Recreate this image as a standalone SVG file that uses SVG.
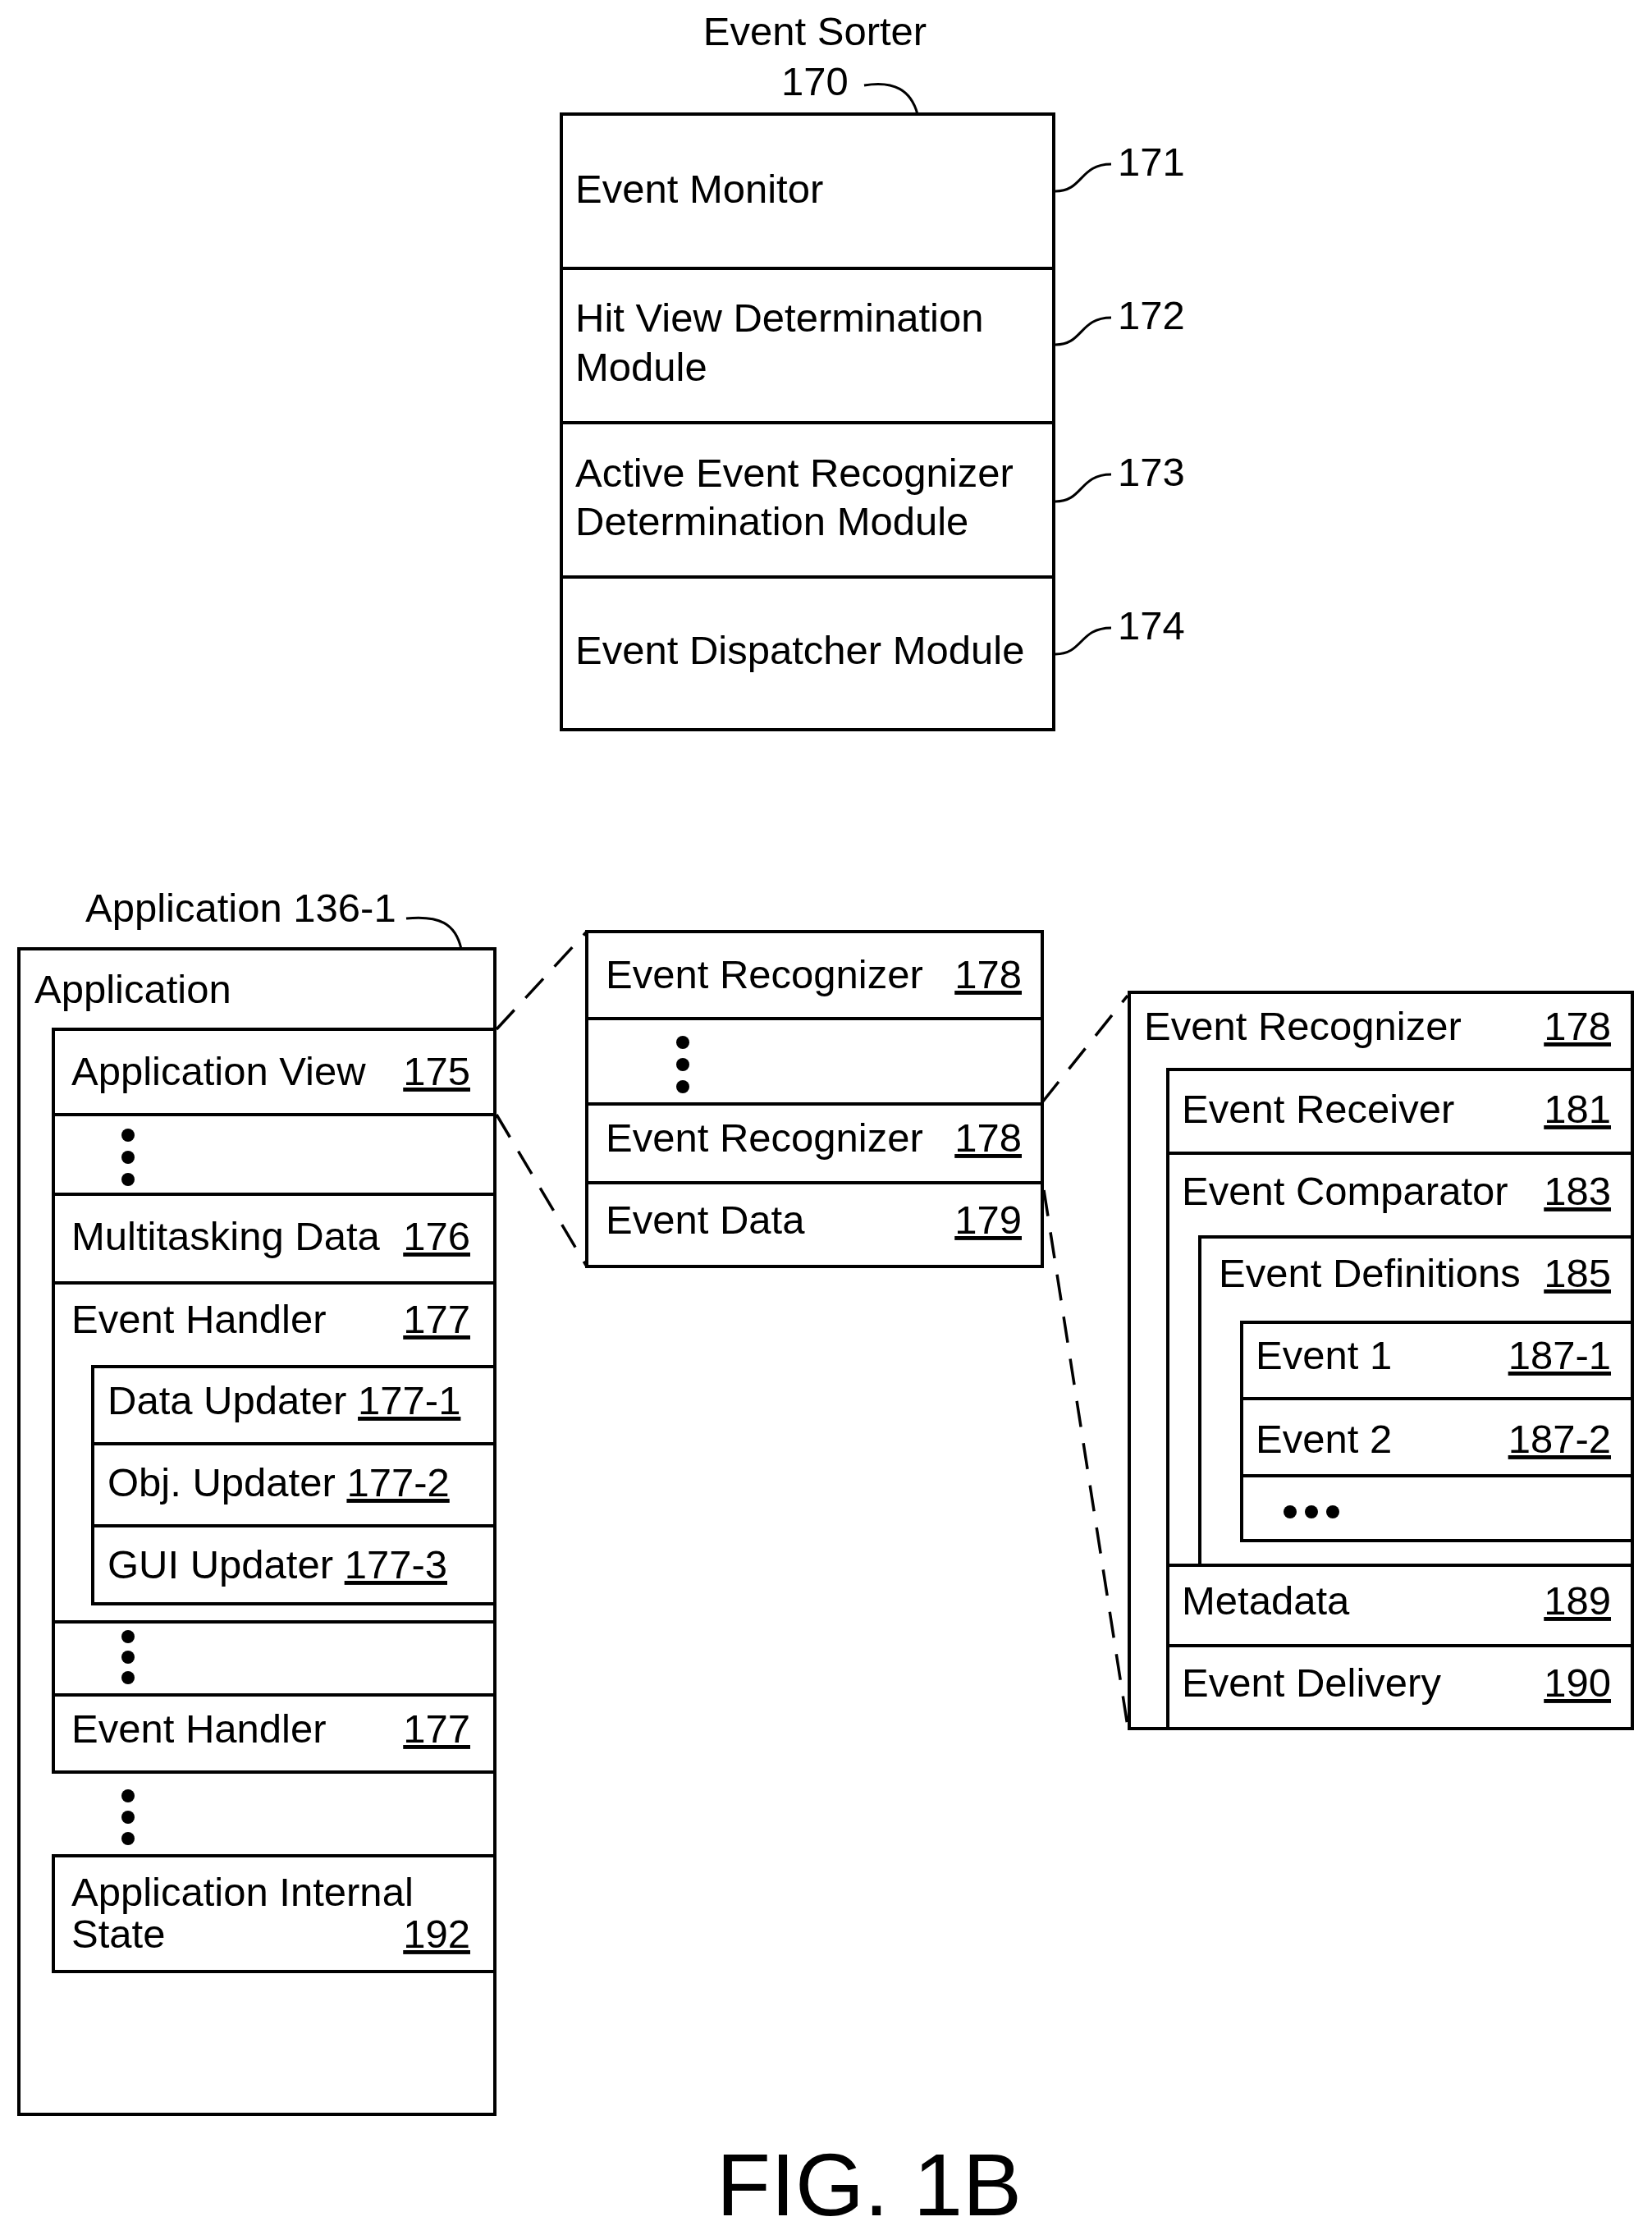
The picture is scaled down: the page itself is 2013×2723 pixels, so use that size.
<svg xmlns="http://www.w3.org/2000/svg" width="2013" height="2723" viewBox="0 0 2013 2723">
<style>
text{font-family:"Liberation Sans",Arial,sans-serif;font-size:49px;fill:#000}
.n{text-anchor:end;text-decoration:underline}
.b{fill:#fff;stroke:#000;stroke-width:4}
.l{fill:none;stroke:#000;stroke-width:4}
.d{fill:none;stroke:#000;stroke-width:3.5;stroke-dasharray:32 20}
.c{fill:none;stroke:#000;stroke-width:3}
</style>
<rect width="2013" height="2723" fill="#fff"/>
<g id="event-sorter">
<text x="993" y="55" text-anchor="middle">Event Sorter</text>
<text x="993" y="116" text-anchor="middle">170</text>
<path class="c" d="M1053,104 C1090,98 1110,110 1118,139"/>
<rect class="b" x="684" y="139" width="600" height="750"/>
<line class="l" x1="684" y1="327" x2="1284" y2="327"/>
<line class="l" x1="684" y1="515" x2="1284" y2="515"/>
<line class="l" x1="684" y1="703" x2="1284" y2="703"/>
<text x="701" y="247">Event Monitor</text>
<text x="701" y="404">Hit View Determination</text>
<text x="701" y="464">Module</text>
<text x="701" y="593">Active Event Recognizer</text>
<text x="701" y="652">Determination Module</text>
<text x="701" y="809">Event Dispatcher Module</text>
<path class="c" d="M1286,233 C1320,233 1315,200 1354,200"/><text x="1362" y="214">171</text>
<path class="c" d="M1286,420 C1320,420 1315,387 1354,387"/><text x="1362" y="401">172</text>
<path class="c" d="M1286,611 C1320,611 1315,578 1354,578"/><text x="1362" y="592">173</text>
<path class="c" d="M1286,797 C1320,797 1315,765 1354,765"/><text x="1362" y="779">174</text>
</g>
<g id="application">
<text x="104" y="1123">Application 136-1</text>
<path class="c" d="M495,1119 C535,1115 555,1125 562,1156"/>
<rect class="b" x="23" y="1156" width="580" height="1420"/>
<text x="42" y="1222">Application</text>
<rect class="b" x="65" y="1254" width="538" height="722"/>
<line class="l" x1="65" y1="1358" x2="603" y2="1358"/>
<line class="l" x1="65" y1="1455" x2="603" y2="1455"/>
<line class="l" x1="65" y1="1563" x2="603" y2="1563"/>
<rect class="b" x="113" y="1665" width="490" height="289"/>
<line class="l" x1="113" y1="1759" x2="603" y2="1759"/>
<line class="l" x1="113" y1="1859" x2="603" y2="1859"/>
<text x="87" y="1322">Application View</text><text class="n" x="573" y="1322">175</text>
<circle cx="156" cy="1383" r="8"/><circle cx="156" cy="1410" r="8"/><circle cx="156" cy="1437" r="8"/>
<text x="87" y="1523">Multitasking Data</text><text class="n" x="573" y="1523">176</text>
<text x="87" y="1624">Event Handler</text><text class="n" x="573" y="1624">177</text>
<text x="131" y="1723">Data Updater <tspan text-decoration="underline">177-1</tspan></text>
<text x="131" y="1823">Obj. Updater <tspan text-decoration="underline">177-2</tspan></text>
<text x="131" y="1923">GUI Updater <tspan text-decoration="underline">177-3</tspan></text>
<rect class="b" x="65" y="1976" width="538" height="183"/>
<line class="l" x1="65" y1="2065" x2="603" y2="2065"/>
<circle cx="156" cy="1994" r="8"/><circle cx="156" cy="2019" r="8"/><circle cx="156" cy="2044" r="8"/>
<text x="87" y="2123">Event Handler</text><text class="n" x="573" y="2123">177</text>
<circle cx="156" cy="2188" r="8"/><circle cx="156" cy="2214" r="8"/><circle cx="156" cy="2240" r="8"/>
<rect class="b" x="65" y="2261" width="538" height="141"/>
<text x="87" y="2322">Application Internal</text>
<text x="87" y="2373">State</text><text class="n" x="573" y="2373">192</text>
</g>
<g id="event-recognizers">
<rect class="b" x="715" y="1135" width="555" height="408"/>
<line class="l" x1="715" y1="1241" x2="1270" y2="1241"/>
<line class="l" x1="715" y1="1345" x2="1270" y2="1345"/>
<line class="l" x1="715" y1="1441" x2="1270" y2="1441"/>
<text x="738" y="1204">Event Recognizer</text><text class="n" x="1245" y="1204">178</text>
<circle cx="832" cy="1270" r="8"/><circle cx="832" cy="1297" r="8"/><circle cx="832" cy="1324" r="8"/>
<text x="738" y="1403">Event Recognizer</text><text class="n" x="1245" y="1403">178</text>
<text x="738" y="1503">Event Data</text><text class="n" x="1245" y="1503">179</text>
</g>
<g id="event-recognizer-detail">
<rect class="b" x="1376" y="1209" width="613" height="897"/>
<rect class="b" x="1423" y="1303" width="566" height="803"/>
<line class="l" x1="1423" y1="1405" x2="1989" y2="1405"/>
<line class="l" x1="1423" y1="1907" x2="1989" y2="1907"/>
<line class="l" x1="1423" y1="2005" x2="1989" y2="2005"/>
<path class="l" d="M1462,1907 V1507 H1989"/>
<rect class="b" x="1513" y="1611" width="476" height="266"/>
<line class="l" x1="1513" y1="1704" x2="1989" y2="1704"/>
<line class="l" x1="1513" y1="1798" x2="1989" y2="1798"/>
<text x="1394" y="1267">Event Recognizer</text><text class="n" x="1963" y="1267">178</text>
<text x="1440" y="1368">Event Receiver</text><text class="n" x="1963" y="1368">181</text>
<text x="1440" y="1468">Event Comparator</text><text class="n" x="1963" y="1468">183</text>
<text x="1485" y="1568">Event Definitions</text><text class="n" x="1963" y="1568">185</text>
<text x="1530" y="1668">Event 1</text><text class="n" x="1963" y="1668">187-1</text>
<text x="1530" y="1770">Event 2</text><text class="n" x="1963" y="1770">187-2</text>
<circle cx="1572" cy="1842" r="8"/><circle cx="1598" cy="1842" r="8"/><circle cx="1624" cy="1842" r="8"/>
<text x="1440" y="1967">Metadata</text><text class="n" x="1963" y="1967">189</text>
<text x="1440" y="2067">Event Delivery</text><text class="n" x="1963" y="2067">190</text>
</g>
<g id="connectors">
<line class="d" x1="605" y1="1254" x2="715" y2="1135"/>
<line class="d" x1="605" y1="1358" x2="715" y2="1543"/>
<line class="d" x1="1270" y1="1343" x2="1374" y2="1213"/>
<line class="d" x1="1272" y1="1450" x2="1374" y2="2103"/>
</g>
<text x="1059" y="2699" text-anchor="middle" style="font-size:108px">FIG. 1B</text>
</svg>
